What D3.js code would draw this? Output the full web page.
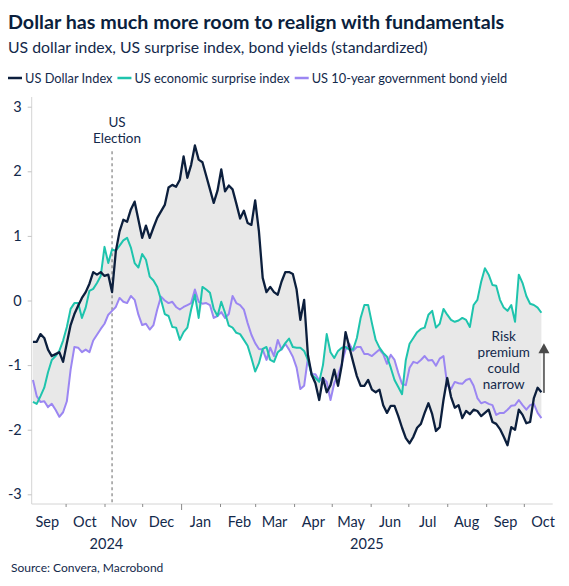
<!DOCTYPE html>
<html>
<head>
<meta charset="utf-8">
<script src="https://cdn.jsdelivr.net/npm/d3@7"></script>
<style>
  body { margin: 0; background: #fff; }
  text { font-family: Lato, "Open Sans", sans-serif; }
</style>
</head>
<body>
<div id="chart"></div>
<script>
// sampling grid: every 3rd day from 5 Sep 2024
const startDate = new Date(Date.UTC(2024, 8, 5));
const stepDays = 3;

// standardized values
const dollarIndex = [
  -0.64, -0.64, -0.52, -0.58, -0.76, -0.86, -0.83, -0.80, -0.95, -0.66,
  -0.38, -0.21, -0.08, 0.04, 0.13, 0.26, 0.44, 0.40, 0.44, 0.38,
  0.40, 0.13, 0.76, 1.07, 1.25, 1.22, 1.41, 1.53, 1.25, 0.97,
  1.16, 0.97, 1.13, 1.28, 1.38, 1.48, 1.75, 1.79, 1.76, 1.87,
  2.23, 1.90, 2.10, 2.40, 2.18, 2.14, 1.93, 1.72, 1.51, 1.70,
  2.03, 1.69, 1.78, 1.72, 1.50, 1.27, 1.39, 1.20, 1.17, 1.55,
  1.07, 0.35, 0.13, 0.21, 0.13, 0.09, 0.29, 0.44, 0.44, 0.41,
  0.17, -0.30, 0.01, -0.84, -1.15, -1.28, -1.54, -1.20, -1.42, -1.31,
  -1.07, -1.32, -1.00, -0.49, -0.72, -0.95, -1.17, -1.32, -1.32, -1.23,
  -1.38, -1.42, -1.38, -1.62, -1.74, -1.63, -1.63, -1.79, -1.97, -2.13,
  -2.21, -2.11, -1.97, -1.91, -1.74, -1.59, -1.76, -2.02, -1.96, -1.54,
  -1.20, -1.49, -1.66, -1.62, -1.82, -1.71, -1.76, -1.69, -1.71, -1.79,
  -1.74, -1.69, -1.88, -1.91, -1.99, -2.11, -2.24, -1.96, -2.00, -1.69,
  -1.77, -1.90, -1.88, -1.51, -1.35, -1.42
];

const surpriseIndex = [
  -1.57, -1.60, -1.48, -1.35, -1.11, -0.92, -0.86, -0.78, -0.62, -0.41,
  -0.13, -0.04, -0.04, -0.27, -0.11, 0.15, 0.18, 0.27, 0.38, 0.83,
  0.58, 0.79, 0.77, 0.85, 0.93, 0.97, 0.82, 0.58, 0.51, 0.72,
  0.63, 0.37, 0.31, 0.21, 0.01, -0.21, -0.24, -0.41, -0.42, -0.61,
  -0.49, -0.42, -0.14, 0.09, -0.27, 0.21, 0.17, 0.12, -0.13, -0.24,
  -0.02, -0.19, -0.39, -0.42, -0.50, -0.52, -0.61, -0.70, -0.89, -1.10,
  -0.97, -0.75, -0.72, -0.92, -0.95, -0.80, -0.75, -0.66, -0.59, -0.72,
  -0.73, -0.73, -0.78, -0.92, -1.15, -1.20, -1.26, -1.00, -0.52, -0.80,
  -0.89, -0.78, -0.73, -0.72, -0.76, -0.76, -0.58, -0.27, -0.07, -0.07,
  -0.35, -0.61, -0.73, -0.81, -0.87, -1.04, -1.23, -1.34, -1.45, -0.92,
  -0.67, -0.58, -0.49, -0.44, -0.42, -0.22, -0.16, -0.42, -0.36, -0.13,
  -0.22, -0.30, -0.33, -0.31, -0.27, -0.30, -0.41, -0.07, 0.01, 0.29,
  0.50, 0.40, 0.24, 0.23, 0.01, -0.11, -0.16, -0.07, -0.33, 0.40,
  0.27, 0.07, -0.05, -0.07, -0.11, -0.19
];

const bondYield = [
  -1.23, -1.48, -1.57, -1.56, -1.65, -1.60, -1.69, -1.80, -1.73, -1.56,
  -1.07, -0.72, -0.73, -0.80, -0.76, -0.80, -0.62, -0.53, -0.44, -0.36,
  -0.22, -0.16, -0.10, 0.04, -0.02, -0.04, 0.07, 0.01, -0.22, -0.38,
  -0.36, -0.45, -0.38, -0.14, 0.06, 0.00, -0.04, -0.02, -0.10, -0.14,
  -0.10, -0.07, -0.04, 0.17, -0.02, -0.05, -0.04, -0.07, -0.27, -0.24,
  -0.18, -0.27, -0.21, 0.07, -0.04, -0.07, -0.14, -0.35, -0.53, -0.66,
  -0.75, -0.76, -0.92, -0.73, -0.86, -0.61, -0.76, -0.67, -0.76, -0.87,
  -1.04, -1.37, -1.32, -0.89, -1.14, -1.14, -1.24, -1.20, -1.26, -1.54,
  -1.28, -1.15, -0.98, -0.76, -0.67, -0.78, -0.72, -0.72, -0.83, -0.83,
  -0.86, -0.81, -0.76, -0.83, -0.98, -0.84, -0.92, -1.12, -1.29, -1.31,
  -1.04, -0.95, -0.97, -0.92, -0.86, -0.93, -0.92, -1.01, -0.90, -0.86,
  -1.31, -1.37, -1.26, -1.28, -1.29, -1.23, -1.21, -1.32, -1.51, -1.59,
  -1.57, -1.60, -1.62, -1.77, -1.74, -1.74, -1.69, -1.63, -1.62, -1.54,
  -1.62, -1.69, -1.62, -1.60, -1.74, -1.82
];

const seriesNames = ['US Dollar Index', 'US economic surprise index', 'US 10-year government bond yield'];
const seriesColors = ['#0c1f3d', '#1ec4ad', '#9b86f2'];
const yTicks = [-3, -2, -1, 0, 1, 2, 3];

// annotations
const electionDate = new Date(Date.UTC(2024, 10, 7));
const electionLabel = ['US', 'Election'];
const arrowDate = new Date(Date.UTC(2025, 9, 17));
const arrowValues = [-1.43, -0.66];
const riskLabel = ['Risk', 'premium', 'could', 'narrow'];
const riskLabelDate = new Date(Date.UTC(2025, 8, 15));

const textColor = '#13294b';

const W = 569, H = 586;
const plot = { left: 31.7, right: 552.7, top: 97, bottom: 504 };

const dates = dollarIndex.map((d, i) => d3.utcDay.offset(startDate, i * stepDays));
const rows = dates.map((date, i) => {
  const vals = [dollarIndex[i], surpriseIndex[i], bondYield[i]];
  return { date, vals, hi: d3.max(vals), lo: d3.min(vals) };
});

const svg = d3.select('#chart').append('svg')
  .attr('width', W).attr('height', H)
  .style('background', '#fff');

const xScale = d3.scaleUtc()
  .domain([new Date(Date.UTC(2024, 8, 4)), new Date(Date.UTC(2025, 9, 24))])
  .range([plot.left, plot.right]);
const yScale = d3.scaleLinear().domain([-3.15, 3.15]).range([plot.bottom, plot.top]);

// title block
svg.append('text').attr('x', 8).attr('y', 29)
  .attr('font-size', 19.7).attr('font-weight', 700).attr('fill', '#0b1f3d')
  .text('Dollar has much more room to realign with fundamentals');
svg.append('text').attr('x', 8).attr('y', 53)
  .attr('font-size', 15.8).attr('fill', textColor)
  .text('US dollar index, US surprise index, bond yields (standardized)');

// legend
const legend = svg.append('g').attr('transform', 'translate(8,78)');
let lx = 0;
seriesNames.forEach((name, i) => {
  legend.append('line').attr('x1', lx).attr('x2', lx + 14)
    .attr('stroke', seriesColors[i]).attr('stroke-width', 2.5);
  const t = legend.append('text').attr('x', lx + 17).attr('y', 4.5)
    .attr('font-size', 12.8).attr('fill', textColor).text(name);
  lx += 17 + t.node().getComputedTextLength() + 5;
});

// band between highest and lowest series
svg.append('path').datum(rows)
  .attr('fill', '#e8e8e8')
  .attr('d', d3.area()
    .x(d => xScale(d.date))
    .y0(d => yScale(d.lo))
    .y1(d => yScale(d.hi)));

// axes
const yAxis = d3.axisLeft(yScale).tickValues(yTicks).tickSize(4).tickPadding(6)
  .tickFormat(d => String(d));
const yg = svg.append('g').attr('transform', `translate(${plot.left},0)`).call(yAxis);
yg.select('.domain').attr('stroke', '#d4d4d4').attr('d', `M0,${plot.top}V${plot.bottom}`);
yg.selectAll('.tick line').attr('stroke', '#c4c4c4');
yg.selectAll('.tick text').attr('font-size', 14.5).attr('fill', textColor)
  .attr('font-family', 'Lato, sans-serif');

const monthStarts = d3.utcMonth.range(new Date(Date.UTC(2024, 9, 1)), new Date(Date.UTC(2025, 9, 2)));
const xTickAxis = d3.axisBottom(xScale).tickValues(monthStarts).tickSize(3).tickFormat('');
const xg = svg.append('g').attr('transform', `translate(0,${plot.bottom})`).call(xTickAxis);
xg.select('.domain').attr('stroke', '#d4d4d4').attr('d', `M${plot.left},0H${plot.right}`);
xg.selectAll('.tick line').attr('stroke', '#8a8a8a')
  .attr('y2', d => d.getUTCMonth() === 0 ? 6 : 3);

const monthMids = d3.utcMonth.range(new Date(Date.UTC(2024, 8, 1)), new Date(Date.UTC(2025, 9, 2)))
  .map(d => d3.utcDay.offset(d, 15));
const xLabelAxis = d3.axisBottom(xScale).tickValues(monthMids).tickSize(0).tickPadding(12.5)
  .tickFormat(d3.utcFormat('%b'));
const xl = svg.append('g').attr('transform', `translate(0,${plot.bottom})`).call(xLabelAxis);
xl.select('.domain').remove();
xl.selectAll('.tick text').attr('font-size', 14.5).attr('fill', textColor)
  .attr('font-family', 'Lato, sans-serif');

const yearSpans = [
  [xScale.domain()[0], new Date(Date.UTC(2025, 0, 1)), '2024'],
  [new Date(Date.UTC(2025, 0, 1)), xScale.domain()[1], '2025']
];
svg.selectAll('.year').data(yearSpans).join('text')
  .attr('class', 'year')
  .attr('x', d => (xScale(d[0]) + xScale(d[1])) / 2)
  .attr('y', 549)
  .attr('text-anchor', 'middle').attr('font-size', 14.5).attr('fill', textColor)
  .text(d => d[2]);

// election marker
svg.append('line')
  .attr('x1', xScale(electionDate)).attr('x2', xScale(electionDate))
  .attr('y1', yScale(2.31)).attr('y2', plot.bottom)
  .attr('stroke', '#666').attr('stroke-width', 1).attr('stroke-dasharray', '3,3');
svg.selectAll('.elabel').data(electionLabel).join('text')
  .attr('class', 'elabel')
  .attr('x', xScale(electionDate) + 5)
  .attr('y', (d, i) => yScale(2.68) + i * 16)
  .attr('text-anchor', 'middle').attr('font-size', 13.5).attr('fill', textColor)
  .text(d => d);

// series lines: bond, surprise, dollar on top
const lineGen = k => d3.line().x(d => xScale(d.date)).y(d => yScale(d.vals[k]));
[2, 1, 0].forEach(k => {
  svg.append('path').datum(rows)
    .attr('fill', 'none')
    .attr('stroke', seriesColors[k])
    .attr('stroke-width', k === 0 ? 2.3 : 2)
    .attr('stroke-linejoin', 'round')
    .attr('d', lineGen(k));
});

// risk premium arrow
const ax = xScale(arrowDate);
svg.append('line')
  .attr('x1', ax).attr('x2', ax)
  .attr('y1', yScale(arrowValues[0])).attr('y2', yScale(arrowValues[1]) + 9)
  .attr('stroke', '#6b6b6b').attr('stroke-width', 2);
svg.append('path')
  .attr('d', `M${ax},${yScale(arrowValues[1])}L${ax + 5.5},${yScale(arrowValues[1]) + 10}L${ax - 5.5},${yScale(arrowValues[1]) + 10}Z`)
  .attr('fill', '#4a4a4a');
svg.selectAll('.rlabel').data(riskLabel).join('text')
  .attr('class', 'rlabel')
  .attr('x', xScale(riskLabelDate))
  .attr('y', (d, i) => yScale(-0.62) + i * 16.2)
  .attr('text-anchor', 'middle').attr('font-size', 13.5).attr('fill', textColor)
  .text(d => d);

// source
svg.append('text').attr('x', 11).attr('y', 572)
  .attr('font-size', 12).attr('fill', textColor)
  .text('Source: Convera, Macrobond');
</script>
</body>
</html>
